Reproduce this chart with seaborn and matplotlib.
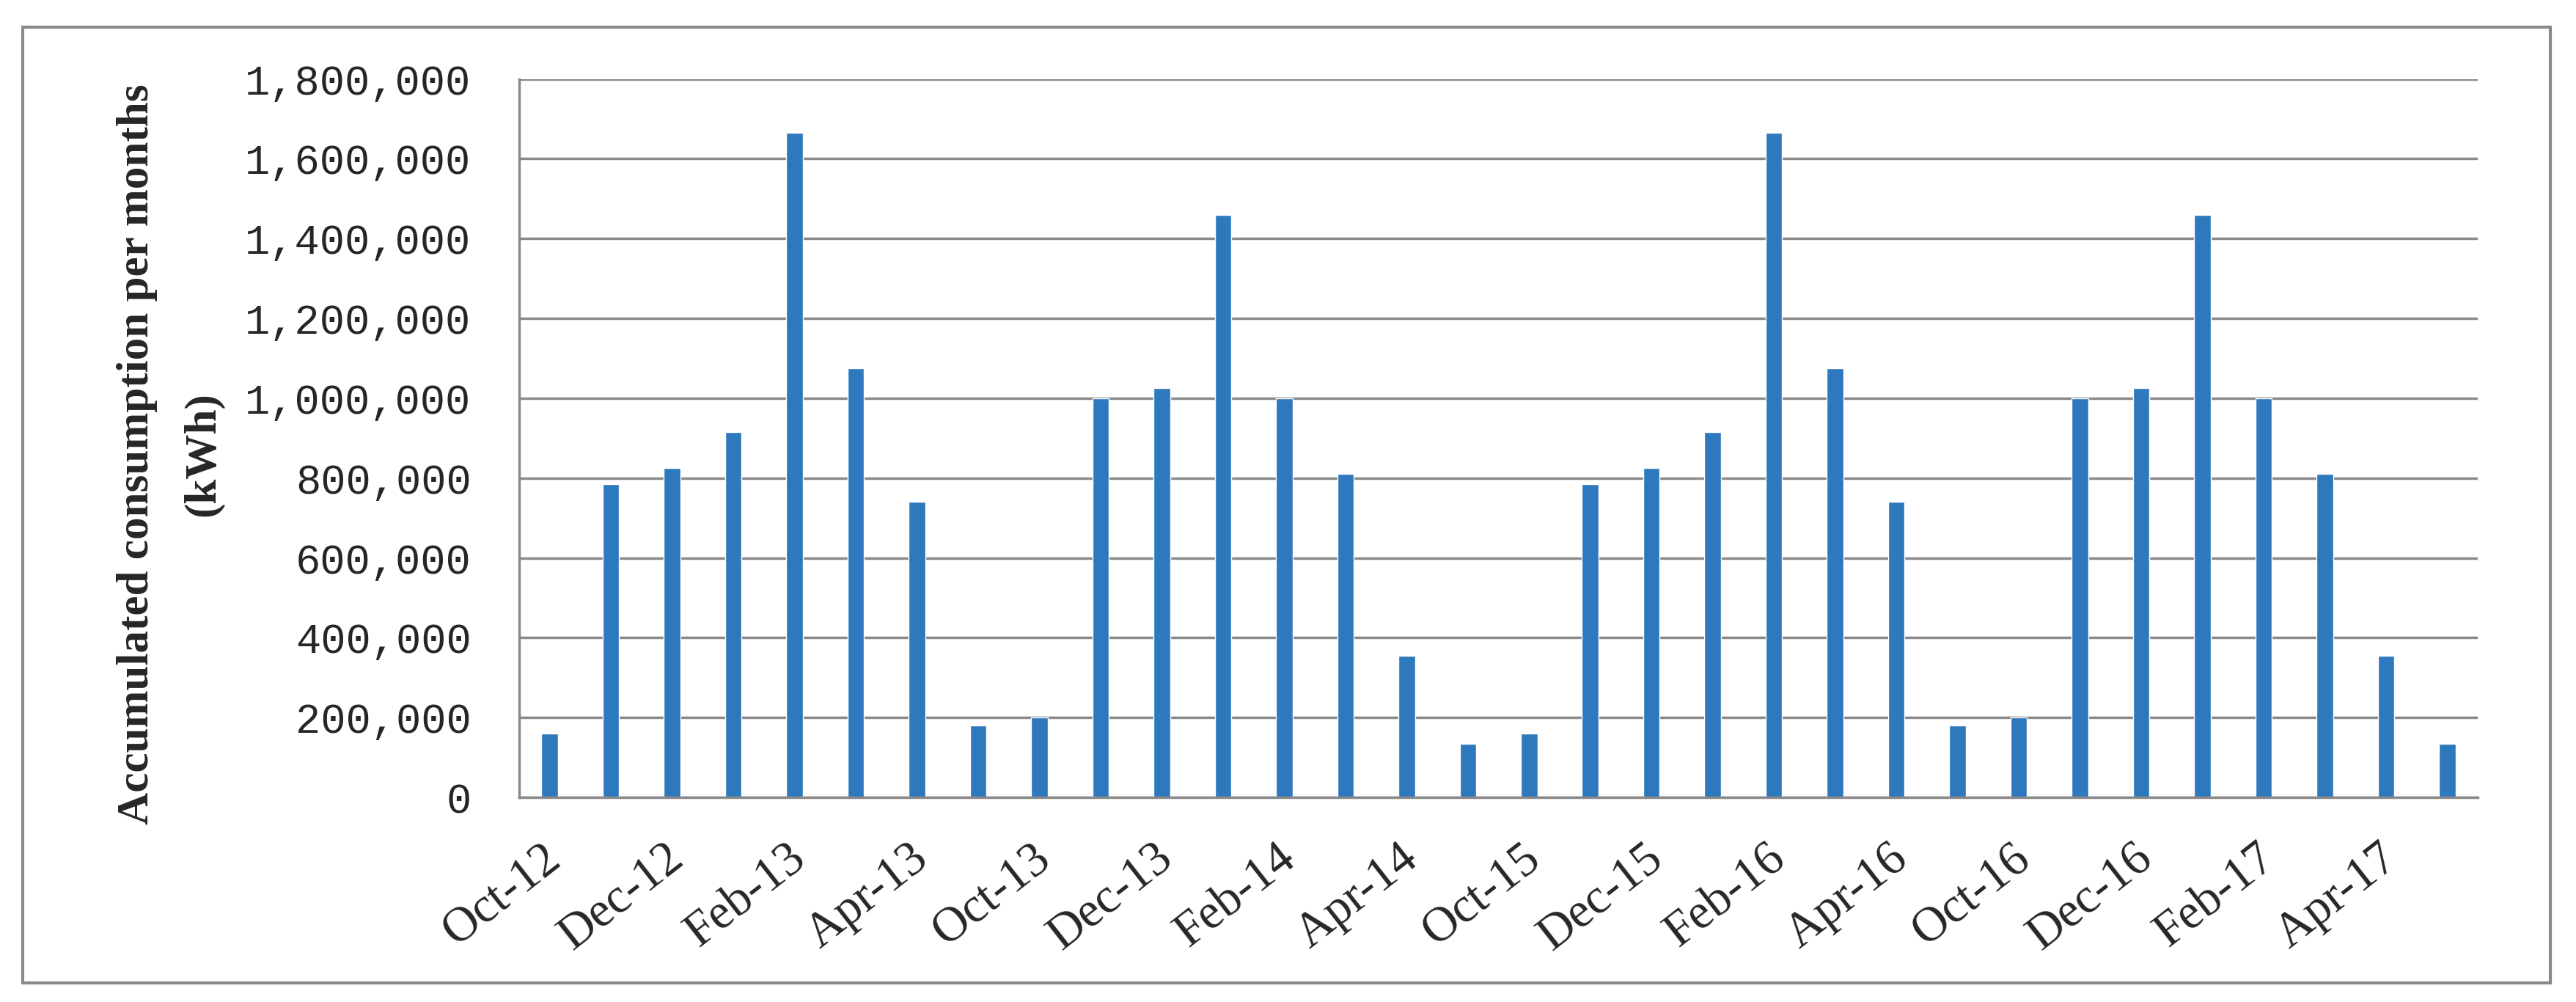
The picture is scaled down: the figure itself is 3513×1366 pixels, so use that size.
import numpy as np
import pandas as pd
import matplotlib.pyplot as plt
import matplotlib.transforms as mtransforms
import seaborn as sns
from matplotlib.patches import Rectangle

# monthly consumption
months = [
    "Oct-12", "Nov-12", "Dec-12", "Jan-13", "Feb-13", "Mar-13", "Apr-13", "May-13",
    "Oct-13", "Nov-13", "Dec-13", "Jan-14", "Feb-14", "Mar-14", "Apr-14", "May-14",
    "Oct-15", "Nov-15", "Dec-15", "Jan-16", "Feb-16", "Mar-16", "Apr-16", "May-16",
    "Oct-16", "Nov-16", "Dec-16", "Jan-17", "Feb-17", "Mar-17", "Apr-17", "May-17",
]
consumption = [
    160000, 785000, 825000, 915000, 1665000, 1075000, 740000, 180000,
    200000, 1000000, 1025000, 1460000, 1000000, 810000, 355000, 135000,
    160000, 785000, 825000, 915000, 1665000, 1075000, 740000, 180000,
    200000, 1000000, 1025000, 1460000, 1000000, 810000, 355000, 135000,
]
y_ticks = [0, 200000, 400000, 600000, 800000, 1000000, 1200000, 1400000, 1600000, 1800000]

BAR_COLOR = "#2E78BD"
GRAY = "#8a8a8a"

sns.set_style("white")
plt.rcParams["font.family"] = ["Liberation Serif", "DejaVu Sans"]

df = pd.DataFrame({"month": months, "kwh": consumption})

fig = plt.figure(figsize=(35.13, 13.66), dpi=100)
ax = fig.add_axes([0.2015, 0.2042, 0.7604, 0.7171])

sns.barplot(data=df, x="month", y="kwh", color=BAR_COLOR, saturation=1,
            width=0.27, ax=ax)

ax.set_xlim(-0.5, len(months) - 0.5)
ax.set_ylim(0, y_ticks[-1])

# y axis: gridlines + comma labels
ax.set_yticks(y_ticks)
ax.set_yticklabels([f"{v:,}" for v in y_ticks], fontfamily="Liberation Mono", fontsize=41)
ax.yaxis.grid(True, color=GRAY, linewidth=2.5)
ax.set_axisbelow(True)
ax.tick_params(axis="y", length=19, width=2.5, color=GRAY, pad=28)

# x axis: label every other month, tick marks between categories
ax.set_xticks(np.arange(0, len(months), 2))
ax.set_xticklabels(months[::2], fontfamily="Liberation Serif", fontsize=48,
                   rotation=38, ha="right", va="center", rotation_mode="anchor")
ax.set_xticks(np.arange(-0.5, len(months), 1), minor=True)
ax.tick_params(axis="x", which="major", length=0, pad=55)
ax.tick_params(axis="x", which="minor", length=20, width=2.5, color=GRAY, direction="out")
shift = mtransforms.ScaledTranslation(0.08, 0, fig.dpi_scale_trans)
for lbl in ax.get_xticklabels():
    lbl.set_transform(lbl.get_transform() + shift)

ax.set_xlabel("")
ax.set_ylabel("Accumulated consumption per months\n(kWh)", fontfamily="Liberation Serif",
              fontweight="bold", fontsize=44, linespacing=1.8)
ax.yaxis.set_label_coords(-0.1505, 0.478)

for side in ["top", "right"]:
    ax.spines[side].set_visible(False)
for side in ["left", "bottom"]:
    ax.spines[side].set_color(GRAY)
    ax.spines[side].set_linewidth(2.5)

# outer chart frame
fig.patches.append(Rectangle((31 / 3513, 1 - 1340 / 1366), (3478 - 31) / 3513,
                             (1340 - 37) / 1366, transform=fig.transFigure,
                             fill=False, edgecolor=GRAY, linewidth=3))

fig.savefig("out.png", dpi=100, facecolor="white")
